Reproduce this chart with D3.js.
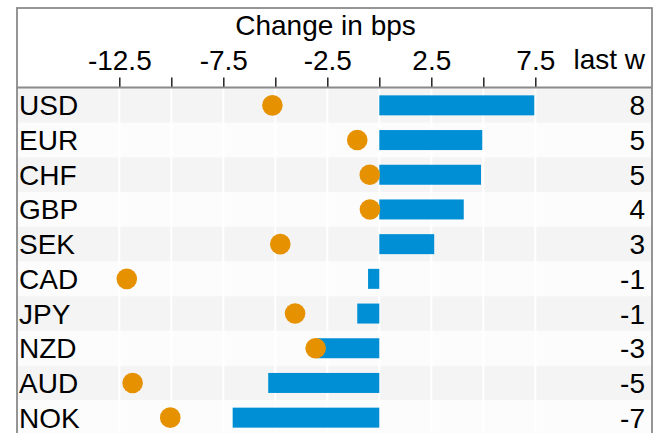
<!DOCTYPE html>
<html>
<head>
<meta charset="utf-8">
<script src="https://cdn.jsdelivr.net/npm/d3@7"></script>
<style>
  html, body { margin: 0; padding: 0; background: #fff; }
  svg { display: block; font-family: "Liberation Sans", Arial, Helvetica, sans-serif; }
</style>
</head>
<body>
<svg id="chart" width="660" height="433"></svg>
<script>
// ---- data ----
const currencies = ["USD", "EUR", "CHF", "GBP", "SEK", "CAD", "JPY", "NZD", "AUD", "NOK"];
const barValues  = [7.45, 4.95, 4.89, 4.06, 2.64, -0.54, -1.06, -3.0, -5.34, -7.05];
const dotValues  = [-5.14, -1.06, -0.46, -0.45, -4.76, -12.14, -4.05, -3.06, -11.86, -10.05];
const lastWeekLabels = ["8", "5", "5", "4", "3", "-1", "-1", "-3", "-5", "-7"];
const tickValues = [-12.5, -10, -7.5, -5, -2.5, 0, 2.5, 5, 7.5];
const tickLabels = ["-12.5", "", "-7.5", "", "-2.5", "", "2.5", "", "7.5"];
const axisTitle = "Change in bps";
const lastColTitle = "last w";

// ---- layout ----
const svg = d3.select("#chart");
const frame = { left: 17, right: 652, top: 8, bottom: 440 };
const headerBottom = 87.5;
const rowsTop = 88, rowH = 34.7;

const x = d3.scaleLinear().domain([-12.5, 7.5]).range([119.3, 535.3]);
const y = d3.scaleBand().domain(currencies).range([rowsTop, rowsTop + rowH * currencies.length]).padding(0);

const data = currencies.map((c, i) => ({ c, bar: barValues[i], dot: dotValues[i], lw: lastWeekLabels[i], i }));

// header background
svg.append("rect").attr("x", frame.left).attr("y", frame.top)
  .attr("width", frame.right - frame.left).attr("height", headerBottom - frame.top)
  .attr("fill", "#ffffff");

// row stripes
svg.append("g").selectAll("rect").data(data).join("rect")
  .attr("x", frame.left).attr("y", d => y(d.c))
  .attr("width", frame.right - frame.left).attr("height", y.bandwidth())
  .attr("fill", d => d.i % 2 === 0 ? "#f4f4f4" : "#fcfcfc");

// vertical white gridlines
svg.append("g").selectAll("line").data(tickValues).join("line")
  .attr("x1", d => x(d)).attr("x2", d => x(d))
  .attr("y1", rowsTop).attr("y2", frame.bottom)
  .attr("stroke", "#ffffff").attr("stroke-width", 2);

// bars
svg.append("g").selectAll("rect").data(data).join("rect")
  .attr("x", d => Math.min(x(0), x(d.bar)))
  .attr("y", d => y(d.c) + y.bandwidth() / 2 - 10)
  .attr("width", d => Math.abs(x(d.bar) - x(0)))
  .attr("height", 20)
  .attr("fill", "#008fd5");

// dots
svg.append("g").selectAll("circle").data(data).join("circle")
  .attr("cx", d => x(d.dot))
  .attr("cy", d => y(d.c) + y.bandwidth() / 2)
  .attr("r", 10.3)
  .attr("fill", "#e69100");

// row labels
svg.append("g").selectAll("text").data(data).join("text")
  .attr("x", 19).attr("y", d => y(d.c) + y.bandwidth() / 2 + 10)
  .attr("font-size", 28).attr("fill", "#000")
  .text(d => d.c);

// last week values
svg.append("g").selectAll("text").data(data).join("text")
  .attr("x", 645).attr("y", d => y(d.c) + y.bandwidth() / 2 + 10)
  .attr("text-anchor", "end")
  .attr("font-size", 28).attr("fill", "#000")
  .text(d => d.lw);

// top axis
const axis = d3.axisTop(x).tickValues(tickValues)
  .tickFormat((d, i) => tickLabels[i]).tickSize(10).tickPadding(8);
const ax = svg.append("g").attr("transform", `translate(0,${headerBottom})`).call(axis);
ax.select(".domain").remove();
ax.selectAll(".tick line").attr("stroke", "#222").attr("stroke-width", 1.5);
ax.selectAll(".tick text").attr("font-size", 28).attr("fill", "#000")
  .attr("font-family", "Liberation Sans, Arial, sans-serif");

// header separator
svg.append("line").attr("x1", frame.left).attr("x2", frame.right)
  .attr("y1", headerBottom).attr("y2", headerBottom)
  .attr("stroke", "#8a8a8a").attr("stroke-width", 1.8);

// axis title and last-week header
svg.append("text").attr("x", 325.5).attr("y", 35).attr("text-anchor", "middle")
  .attr("font-size", 28).attr("fill", "#000").text(axisTitle);
svg.append("text").attr("x", 645).attr("y", 69).attr("text-anchor", "end")
  .attr("font-size", 28).attr("fill", "#000").text(lastColTitle);

// frame
svg.append("rect").attr("x", frame.left).attr("y", frame.top)
  .attr("width", frame.right - frame.left).attr("height", frame.bottom - frame.top)
  .attr("fill", "none").attr("stroke", "#8a8a8a").attr("stroke-width", 1.8);
</script>
</body>
</html>
